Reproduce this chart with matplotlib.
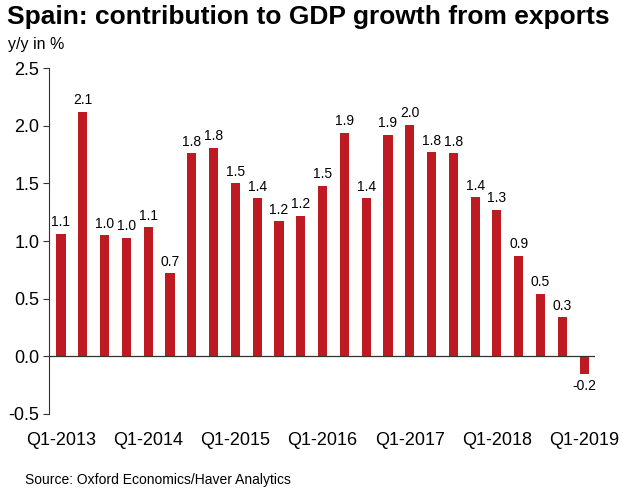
import numpy as np
import matplotlib
matplotlib.use("Agg")
import matplotlib.pyplot as plt

# Quarterly contribution of exports to GDP growth, y/y in %
quarters = [f"Q{q}-{y}" for y in range(2013, 2019) for q in range(1, 5)] + ["Q1-2019"]
values = [1.06, 2.12, 1.05, 1.03, 1.12, 0.72, 1.76, 1.81, 1.50, 1.37, 1.17, 1.22,
          1.48, 1.94, 1.37, 1.92, 2.01, 1.77, 1.76, 1.38, 1.27, 0.87, 0.54, 0.34, -0.15]
# labels as printed on the chart
labels = ["1.1", "2.1", "1.0", "1.0", "1.1", "0.7", "1.8", "1.8", "1.5", "1.4", "1.2", "1.2",
          "1.5", "1.9", "1.4", "1.9", "2.0", "1.8", "1.8", "1.4", "1.3", "0.9", "0.5", "0.3", "-0.2"]

bar_color = "#BE1A22"

plt.rcParams["font.family"] = ["Liberation Sans", "DejaVu Sans"]

fig = plt.figure(figsize=(6.25, 4.99), dpi=100)
ax = fig.add_axes([49 / 625, 1 - 414 / 499, (595 - 49) / 625, (414 - 68) / 499])

x = np.arange(len(values))
ax.bar(x, values, width=0.42, color=bar_color)

for xi, v, lab in zip(x, values, labels):
    if v >= 0:
        ax.text(xi, v + 0.04, lab, ha="center", va="bottom", fontsize=10)
    else:
        ax.text(xi, v - 0.05, lab, ha="center", va="top", fontsize=10)

ax.axhline(0, color="#333333", linewidth=0.9, zorder=3)

ax.set_xlim(-0.55, 24.5)
ax.set_ylim(-0.5, 2.5)
yt = np.arange(-0.5, 2.51, 0.5)
ax.set_yticks(yt)
ax.set_yticklabels([f"{t:.1f}" for t in yt], fontsize=13)

ax.set_xticks(x[::4])
ax.set_xticklabels(quarters[::4], fontsize=13)
ax.tick_params(axis="x", length=0, pad=13)
ax.tick_params(axis="y", length=4, width=0.8, color="#333333", pad=3)

for s in ["top", "right", "bottom"]:
    ax.spines[s].set_visible(False)
ax.spines["left"].set_color("#333333")
ax.spines["left"].set_linewidth(0.8)

fig.text(0.011, 0.965, "Spain: contribution to GDP growth from exports",
         fontsize=19, fontweight="bold", va="center", ha="left")
fig.text(0.013, 0.91, "y/y in %", fontsize=11.5, va="center", ha="left")
fig.text(0.04, 0.038, "Source: Oxford Economics/Haver Analytics", fontsize=10,
         va="center", ha="left")

fig.savefig("out.png", dpi=100)
